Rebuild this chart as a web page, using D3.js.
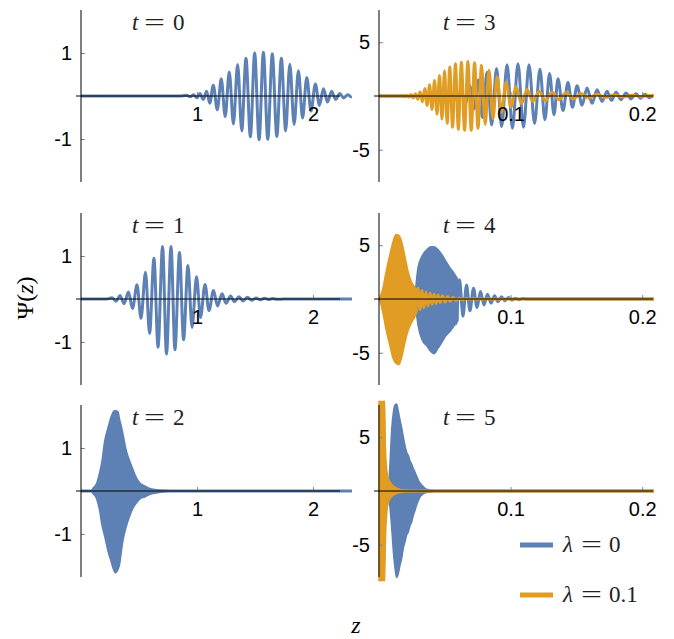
<!DOCTYPE html>
<html>
<head>
<meta charset="utf-8">
<script src="https://cdn.jsdelivr.net/npm/d3@7"></script>
<style>
  body { margin: 0; background: #fff; }
  svg { display: block; }
</style>
</head>
<body>
<div id="chart"></div>
<script>
const w = 674
const h = 639
const blue = '#5e81b5'
const orange = '#e19c24'

const titles = ['0', '1', '2', '3', '4', '5']
const leftTicksX = [1, 2]
const leftTicksY = [-1, 1]
const rightTicksX = [0.1, 0.2]
const rightTicksY = [-5, 5]
const legendLabels = ['0', '0.1']

// wave extrema: [z, psi]
const psiT0 = [[0, 0], [0.85, 0], [0.91, 0.015], [0.94, -0.02], [0.97, 0.03], [1.0, -0.04], [1.025, 0.06], [1.054, -0.08],
  [1.083, 0.11], [1.11, -0.17], [1.14, 0.25], [1.175, -0.32], [1.209, 0.40], [1.243, -0.48], [1.278, 0.56], [1.314, -0.65],
  [1.35, 0.73], [1.386, -0.81], [1.422, 0.88], [1.46, -0.95], [1.497, 1.00], [1.535, -1.02], [1.572, 1.02], [1.61, -1.01],
  [1.649, 0.98], [1.688, -0.94], [1.727, 0.88], [1.764, -0.81], [1.80, 0.74], [1.837, -0.66], [1.874, 0.59], [1.91, -0.51],
  [1.946, 0.43], [1.983, -0.35], [2.02, 0.28], [2.055, -0.22], [2.09, 0.17], [2.125, -0.14], [2.16, 0.11], [2.195, -0.08],
  [2.23, 0.06], [2.265, -0.045], [2.30, 0.03], [2.33, -0.02], [2.336, 0]]

const psiT1 = [[0, 0], [0.22, 0], [0.267, 0.03], [0.302, -0.05], [0.336, 0.08], [0.371, -0.11], [0.409, 0.16], [0.444, -0.22],
  [0.483, 0.33], [0.517, -0.45], [0.556, 0.62], [0.591, -0.8], [0.629, 0.95], [0.664, -1.12], [0.703, 1.22], [0.737, -1.28],
  [0.776, 1.22], [0.810, -1.18], [0.849, 1.08], [0.884, -0.95], [0.922, 0.78], [0.957, -0.66], [0.996, 0.52], [1.030, -0.43],
  [1.069, 0.34], [1.103, -0.27], [1.142, 0.20], [1.177, -0.16], [1.216, 0.12], [1.250, -0.10], [1.289, 0.07], [1.323, -0.065],
  [1.362, 0.05], [1.397, -0.045], [1.435, 0.04], [1.470, -0.03], [1.509, 0.025], [1.543, -0.02], [1.582, 0.015],
  [1.616, -0.012], [1.655, 0.01], [1.690, -0.008], [1.75, 0], [2.336, 0]]

// dense packets drawn as envelopes: [z, upper, lower]
const psiT2 = [[0.09, 0, 0], [0.103, 0.06, -0.06], [0.132, 0.16, -0.16], [0.161, 0.43, -0.46], [0.181, 0.70, -0.80],
  [0.204, 1.16, -1.05], [0.233, 1.47, -1.40], [0.261, 1.74, -1.65], [0.284, 1.86, -1.85], [0.296, 1.87, -1.90],
  [0.319, 1.84, -1.82], [0.333, 1.66, -1.70], [0.348, 1.50, -1.40], [0.362, 1.32, -1.15], [0.391, 0.93, -0.82],
  [0.420, 0.70, -0.58], [0.448, 0.50, -0.40], [0.477, 0.31, -0.28], [0.506, 0.19, -0.19], [0.549, 0.12, -0.14],
  [0.592, 0.06, -0.08], [0.649, 0.03, -0.045], [0.721, 0.015, -0.015], [0.80, 0, 0]]
const psiT2Flat = [[0, 0], [2.336, 0]]

const psiT3Blue = [[0, 0], [0.035, 0], [0.042, 0.02], [0.0452, -0.04], [0.0486, 0.06], [0.0521, -0.12], [0.0555, 0.18],
  [0.0589, -0.3], [0.0623, 0.45], [0.0657, -0.7], [0.0691, 0.9], [0.0722, -1.2], [0.0756, 1.5], [0.0786, -2.0],
  [0.0821, 2.2], [0.0856, -2.7], [0.0893, 2.55], [0.0932, -2.85], [0.0973, 2.9], [0.1014, -3.0], [0.1056, 3.0],
  [0.1098, -2.9], [0.1140, 2.9], [0.1182, -2.55], [0.1223, 2.5], [0.1261, -2.2], [0.1296, 2.1], [0.1330, -1.75],
  [0.1360, 1.6], [0.1398, -1.35], [0.1436, 1.25], [0.1470, -1.05], [0.1505, 0.95], [0.1543, -0.85], [0.1581, 0.75],
  [0.1619, -0.68], [0.1657, 0.58], [0.1695, -0.52], [0.1733, 0.45], [0.1767, -0.42], [0.1801, 0.36], [0.1839, -0.34],
  [0.1877, 0.28], [0.1915, -0.27], [0.1953, 0.22], [0.1987, -0.22], [0.2021, 0.16], [0.2055, -0.17], [0.2090, 0.12]]

const psiT3Orange = [[0, 0], [0.012, 0], [0.0175, 0.02], [0.0192, -0.06], [0.0209, 0.08], [0.0226, -0.1], [0.0243, 0.13],
  [0.0260, -0.18], [0.0277, 0.22], [0.0295, -0.3], [0.0312, 0.4], [0.0330, -0.55], [0.0348, 0.7], [0.0366, -0.88],
  [0.0384, 1.05], [0.0403, -1.25], [0.0422, 1.45], [0.0441, -1.7], [0.0460, 1.9], [0.0479, -2.15], [0.0498, 2.35],
  [0.0518, -2.55], [0.0538, 2.7], [0.0559, -2.9], [0.0581, 3.0], [0.0603, -3.1], [0.0626, 3.15], [0.0650, -3.2],
  [0.0675, 3.2], [0.0701, -3.2], [0.0726, 3.1], [0.0752, -3.0], [0.0779, 2.85], [0.0807, -2.65], [0.0836, 2.4],
  [0.0866, -2.1], [0.0897, 1.8], [0.0931, -1.5], [0.0965, 1.25], [0.1003, -1.05], [0.1041, 0.85], [0.1083, -0.7],
  [0.1125, 0.6], [0.1170, -0.5], [0.1216, 0.45], [0.1265, -0.42], [0.1315, 0.38], [0.1368, -0.35], [0.1421, 0.3],
  [0.1478, -0.27], [0.1535, 0.23], [0.1596, -0.2], [0.1657, 0.17], [0.1721, -0.15], [0.1786, 0.12], [0.1854, -0.1],
  [0.1922, 0.08], [0.1991, -0.06], [0.2059, 0.05], [0.2090, 0]]

const psiT4BlueBody = [[0.0274, 0.3, -0.3], [0.0296, 2.9, -2.4], [0.0327, 4.0, -3.8], [0.0365, 4.6, -4.4],
  [0.0395, 4.85, -4.9], [0.0418, 4.85, -5.1], [0.0448, 4.6, -4.6], [0.0479, 4.1, -4.0], [0.0509, 3.5, -3.4],
  [0.0540, 2.9, -3.0], [0.0570, 2.4, -2.5], [0.0600, 1.8, -2.0]]
const psiT4BlueTail = [[0, 0], [0.0274, 0], [0.0585, -2.3], [0.0612, 1.8], [0.0638, -1.6], [0.0665, 1.3], [0.0691, -1.1],
  [0.0718, 1.0], [0.0745, -0.8], [0.0771, 0.7], [0.0798, -0.55], [0.0824, 0.45], [0.0851, -0.38], [0.0878, 0.3],
  [0.0904, -0.25], [0.0931, 0.2], [0.0957, -0.16], [0.0984, 0.13], [0.1011, -0.1], [0.1037, 0.08], [0.1064, -0.06],
  [0.1094, 0.04], [0.1125, 0], [0.2090, 0]]
const psiT4OrangeBody = [[0, 0, 0], [0.0008, 0.2, -0.2], [0.0030, 1.0, -1.3], [0.0053, 2.5, -2.8], [0.0084, 4.2, -4.4],
  [0.0106, 5.3, -5.5], [0.0129, 6.0, -6.0], [0.0152, 5.9, -6.1], [0.0175, 5.2, -5.3], [0.0198, 3.9, -4.0],
  [0.0220, 2.6, -3.0], [0.0243, 1.7, -2.3], [0.0266, 1.2, -1.8], [0.0289, 0.8, -1.2]]
const psiT4OrangeTail = [[0.0289, 0], [0.0296, 1.0], [0.0312, -1.0], [0.0327, 0.8], [0.0342, -0.8], [0.0357, 0.65],
  [0.0372, -0.65], [0.0388, 0.55], [0.0403, -0.5], [0.0418, 0.45], [0.0433, -0.42], [0.0448, 0.38], [0.0464, -0.35],
  [0.0483, 0.3], [0.0502, -0.28], [0.0521, 0.24], [0.0540, -0.2], [0.0562, 0.16], [0.0585, -0.12], [0.0608, 0.08],
  [0.0631, -0.05], [0.0653, 0.03], [0.0676, 0], [0.2090, 0]]

const psiT5BlueBody = [[0.0065, 0, 0], [0.0071, 0.2, -0.4], [0.0084, 2.7, -1.6], [0.0097, 5.8, -3.5], [0.0109, 7.3, -5.6],
  [0.0122, 8.0, -7.2], [0.0134, 8.1, -8.05], [0.0147, 7.4, -7.65], [0.0160, 6.6, -6.9], [0.0172, 5.9, -6.3],
  [0.0185, 5.0, -5.3], [0.0198, 4.2, -4.7], [0.0210, 3.6, -4.1], [0.0223, 3.3, -3.8], [0.0236, 2.8, -3.2],
  [0.0248, 2.5, -2.9], [0.0261, 2.1, -2.25], [0.0274, 1.75, -1.8], [0.0286, 1.4, -1.3], [0.0299, 1.0, -0.9],
  [0.0312, 0.75, -0.55], [0.0324, 0.55, -0.4], [0.0337, 0.4, -0.25], [0.0350, 0.25, -0.18], [0.0388, 0.1, -0.1],
  [0.0426, 0, 0]]
const psiT5OrangeBody = [[0, 8.6, -8.6], [0.0042, 8.6, -8.6], [0.0049, 4.0, -4.5], [0.0057, 2.2, -2.4], [0.0068, 1.3, -1.2],
  [0.0091, 0.7, -0.6], [0.0122, 0.35, -0.3], [0.0160, 0.15, -0.15], [0.0205, 0.05, -0.05], [0.0251, 0, 0]]
const psiFlatRight = [[0, 0], [0.2090, 0]]

const serif = '"Liberation Serif", "Times New Roman", serif'

const svg = d3.select('#chart')
    .append('svg')
    .attr('width', w)
    .attr('height', h)

const rowZero = [96, 299, 491]
const halfH = 86

const panels = [
    {col: 0, row: 0, title: titles[0], lines: [[psiT0, blue]], bodies: []},
    {col: 0, row: 1, title: titles[1], lines: [[psiT1, blue]], bodies: []},
    {col: 0, row: 2, title: titles[2], lines: [[psiT2Flat, blue]], bodies: [[psiT2, blue]]},
    {col: 1, row: 0, title: titles[3], lines: [[psiT3Blue, blue], [psiT3Orange, orange]], bodies: []},
    {col: 1, row: 1, title: titles[4], lines: [[psiT4BlueTail, blue], [psiT4OrangeTail, orange]],
        bodies: [[psiT4BlueBody, blue], [psiT4OrangeBody, orange]]},
    {col: 1, row: 2, title: titles[5], lines: [[psiFlatRight, blue], [psiFlatRight, orange]],
        bodies: [[psiT5BlueBody, blue], [psiT5OrangeBody, orange]]}
]

// "sym = value" with TeX-like spacing
function mathLabel(sel, x, y, sym, value, eqAt, valAt) {
    const g = sel.append('g')
        .style('font-family', serif)
        .style('font-size', '23px')
        .attr('fill', '#222')
    g.append('text').attr('x', x).attr('y', y).style('font-style', 'italic').text(sym)
    g.append('text').attr('x', x + eqAt).attr('y', y)
        .attr('textLength', 21).attr('lengthAdjust', 'spacingAndGlyphs')
        .text('=')
    g.append('text').attr('x', x + valAt).attr('y', y).text(value)
    return g
}

panels.forEach((p, i) => {
    const zero = rowZero[p.row]
    const left = p.col === 0
    const x = left
        ? d3.scaleLinear().domain([0, 2.336]).range([81, 352])
        : d3.scaleLinear().domain([0, 0.2]).range([379, 642.2])
    const yMax = left ? 2 : 8
    const y = d3.scaleLinear().domain([-yMax, yMax]).range([zero + halfH, zero - halfH])
    const axisEnd = left ? 340 : 653

    const clipId = 'clip' + i
    svg.append('clipPath').attr('id', clipId)
        .append('rect')
        .attr('x', x(0) - 3)
        .attr('y', y(yMax * 1.05))
        .attr('width', (left ? 352 : 654) - x(0) + 3)
        .attr('height', y(-yMax * 1.05) - y(yMax * 1.05))

    const g = svg.append('g').attr('clip-path', 'url(#' + clipId + ')')

    const line = d3.line()
        .x(d => x(d[0]))
        .y(d => y(d[1]))
        .curve(d3.curveMonotoneX)
    const area = d3.area()
        .x(d => x(d[0]))
        .y0(d => y(d[2]))
        .y1(d => y(d[1]))
        .curve(d3.curveMonotoneX)

    // blue first, orange on top
    const layers = []
    p.lines.forEach(l => layers.push({kind: 'line', data: l[0], color: l[1]}))
    p.bodies.forEach(b => layers.push({kind: 'area', data: b[0], color: b[1]}))
    layers.sort((a, b) => (a.color === orange) - (b.color === orange))

    layers.forEach(l => {
        if (l.kind === 'line') {
            g.append('path')
                .attr('d', line(l.data))
                .attr('fill', 'none')
                .attr('stroke', l.color)
                .attr('stroke-width', 3)
                .attr('stroke-linejoin', 'round')
        } else {
            g.append('path')
                .attr('d', area(l.data))
                .attr('fill', l.color)
                .attr('stroke', l.color)
                .attr('stroke-width', 1.5)
        }
    })

    // axes
    const xAxis = d3.axisBottom(x)
        .tickValues(left ? leftTicksX : rightTicksX)
        .tickFormat(d => String(d))
        .tickSizeInner(-4)
        .tickSizeOuter(0)
        .tickPadding(11)
    const yAxis = d3.axisLeft(y)
        .tickValues(left ? leftTicksY : rightTicksY)
        .tickFormat(d => d < 0 ? '-' + Math.abs(d) : String(d))
        .tickSizeInner(-4)
        .tickSizeOuter(0)
        .tickPadding(9)

    const gx = svg.append('g')
        .attr('transform', 'translate(0,' + zero + ')')
        .call(xAxis)
    const gy = svg.append('g')
        .attr('transform', 'translate(' + x(0) + ',0)')
        .call(yAxis)

    ;[gx, gy].forEach(a => {
        a.select('.domain').remove()
        a.selectAll('line').attr('stroke', '#888')
        a.selectAll('text')
            .attr('fill', '#000')
            .style('font-family', '"Liberation Sans", Arial, sans-serif')
            .style('font-size', '20px')
    })

    svg.append('line')
        .attr('x1', x(0) - 5).attr('x2', axisEnd)
        .attr('y1', zero).attr('y2', zero)
        .attr('stroke', '#000').attr('stroke-width', 1)
    svg.append('line')
        .attr('x1', x(0)).attr('x2', x(0))
        .attr('y1', zero - halfH).attr('y2', zero + halfH)
        .attr('stroke', '#000').attr('stroke-width', 1)

    mathLabel(svg, left ? 132 : 443, zero - 66, 't', p.title, 12, 41)
})

// y label
const yl = svg.append('text')
    .attr('transform', 'translate(33,298) rotate(-90)')
    .attr('text-anchor', 'middle')
    .style('font-family', serif)
    .style('font-size', '24px')
yl.append('tspan').text('Ψ(')
yl.append('tspan').style('font-style', 'italic').text('z')
yl.append('tspan').text(')')

// x label
svg.append('text')
    .attr('x', 356)
    .attr('y', 633)
    .attr('text-anchor', 'middle')
    .style('font-family', serif)
    .style('font-size', '24px')
    .style('font-style', 'italic')
    .text('z')

// legend
const legend = svg.append('g')
    .selectAll('g')
    .data(legendLabels)
    .enter()
    .append('g')
    .attr('transform', (d, i) => 'translate(0,' + (545 + i * 50) + ')')

legend.append('line')
    .attr('x1', 520).attr('x2', 553)
    .attr('y1', 0).attr('y2', 0)
    .attr('stroke', (d, i) => i === 0 ? blue : orange)
    .attr('stroke-width', 5)

legend.each(function(d) {
    mathLabel(d3.select(this), 563, 7, 'λ', d, 18, 46)
})
</script>
</body>
</html>
